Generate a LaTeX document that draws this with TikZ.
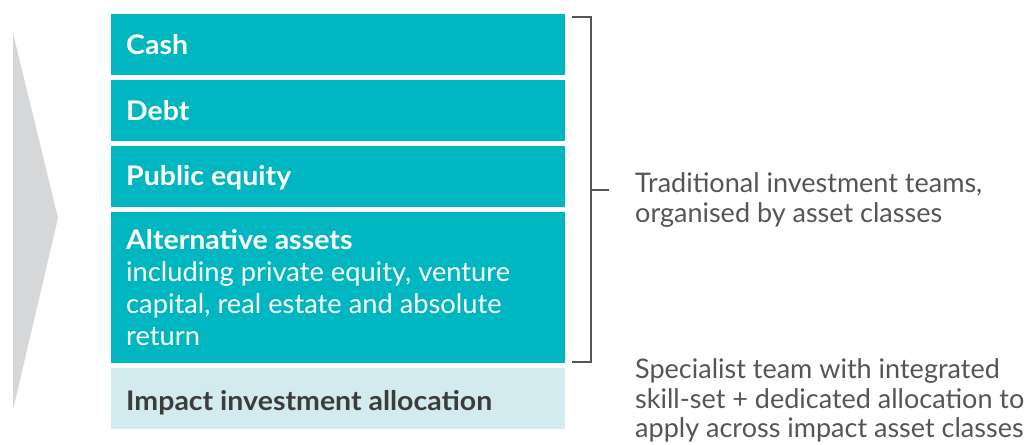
\documentclass[tikz,border=0pt]{standalone}
\usepackage{fontspec}
\setmainfont{Lato}
\newfontfamily\boldlbl[FakeStretch=1.055]{Lato Bold}
\newfontfamily\sublbl[FakeStretch=1.01]{Lato}
\newfontfamily\sidefont{Lato}
\definecolor{teal1}{HTML}{00B6C1}
\definecolor{teal2}{HTML}{D3EBEE}
\definecolor{arrowgrey}{HTML}{D6D7D9}
\definecolor{txtgrey}{HTML}{555555}
\definecolor{darktxt}{HTML}{3C3C3C}
\definecolor{bracketgrey}{HTML}{555555}
\begin{document}
\begin{tikzpicture}[x=1pt,y=-1pt,
  box/.style={rectangle,fill=teal1,draw=none,anchor=north west,inner sep=0pt,minimum width=454pt},
  lightbox/.style={box,fill=teal2},
  boxlbl/.style={anchor=base west,inner sep=0pt,text=white,font=\boldlbl\fontsize{27}{32}\selectfont},
  boxsub/.style={anchor=base west,inner sep=0pt,text=white,font=\sublbl\fontsize{27}{32}\selectfont},
  sidetxt/.style={anchor=base west,inner sep=0pt,text=txtgrey,font=\sidefont\fontsize{27}{32}\selectfont},
  brk/.style={draw=bracketgrey,line width=1.2pt}]
\useasboundingbox (0,0) rectangle (1035,444);
% arrow
\fill[arrowgrey] (13,33) -- (58,218) -- (13,410) -- cycle;
% boxes
\node[box,minimum height=61pt] (cash) at (111,14) {};
\node[box,minimum height=61pt] (debt) at (111,80) {};
\node[box,minimum height=61pt] (pub) at (111,146) {};
\node[box,minimum height=151pt] (alt) at (111,212) {};
\node[lightbox,minimum height=61pt] (imp) at (111,368) {};
% labels
\node[boxlbl] (tcash) at (126,55) {Cash};
\node[boxlbl] (tdebt) at (126,120) {Debt};
\node[boxlbl] (tpub) at (126,185) {Public equity};
\node[boxlbl] (talt) at (126,249) {Alternative assets};
\node[boxsub] (talt1) at (126,281) {including private equity, venture};
\node[boxsub] (talt2) at (126,313) {capital, real estate and absolute};
\node[boxsub] (talt3) at (126,345) {return};
\node[boxlbl,text=darktxt] (timp) at (126,410) {Impact investment allocation};
% bracket
\coordinate (b1) at (572,17);
\coordinate (b2) at (591,17);
\coordinate (b3) at (591,362);
\coordinate (b4) at (572,362);
\coordinate (bm) at (591,190);
\coordinate (bt) at (609,190);
\draw[brk] (b1) -- (b2) -- (b3) -- (b4);
\draw[brk] (bm) -- (bt);
% side texts
\node[sidetxt] (s1) at (635,192) {Traditional investment teams,};
\node[sidetxt] (s2) at (635,222) {organised by asset classes};
\node[sidetxt] (s3) at (635,378) {Specialist team with integrated};
\node[sidetxt] (s4) at (635,408) {skill-set + dedicated allocation to};
\node[sidetxt] (s5) at (635,437) {apply across impact asset classes};
\end{tikzpicture}
\end{document}
